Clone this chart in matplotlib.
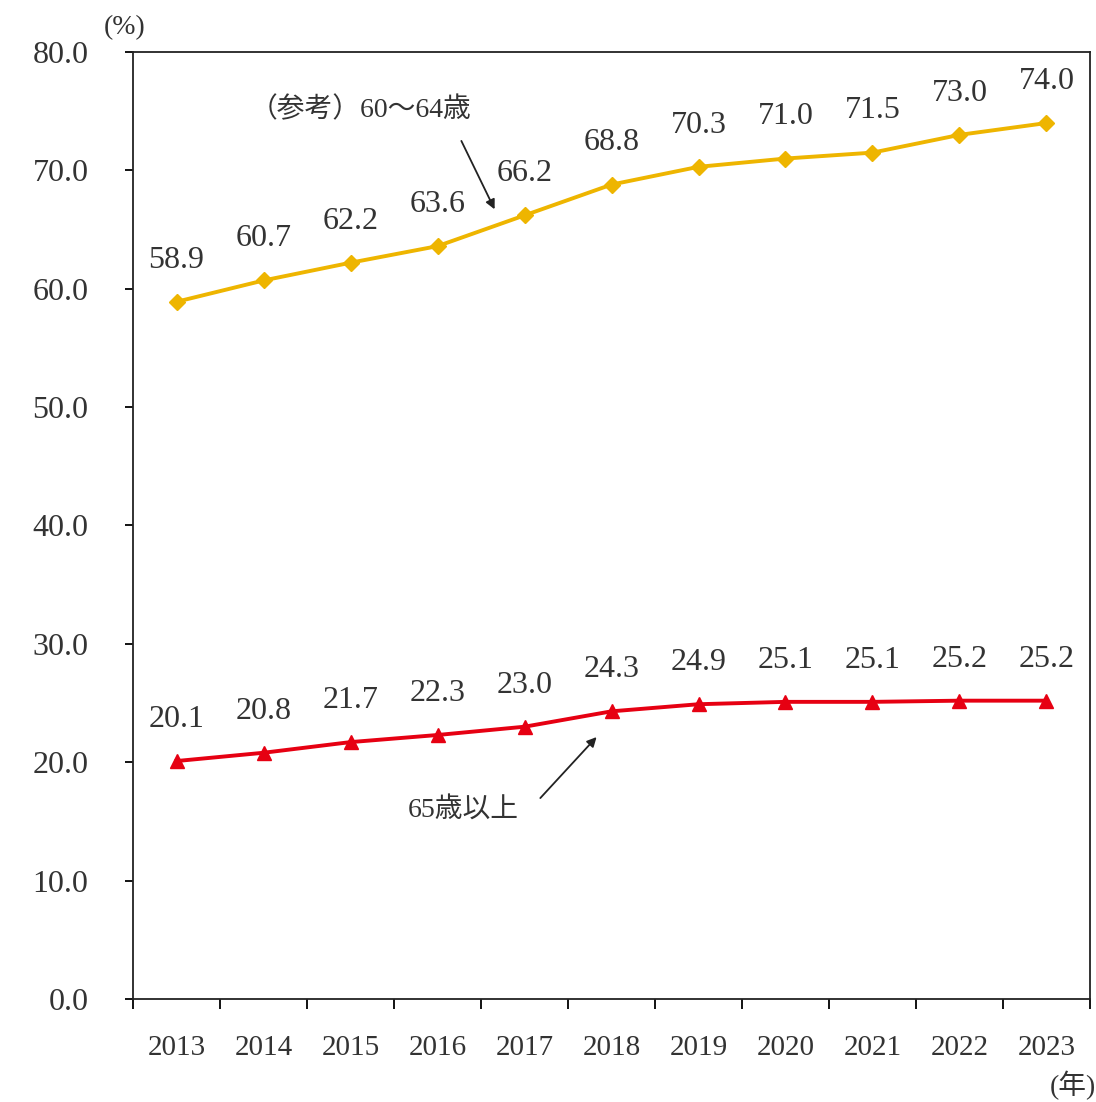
"""
employment rate of older people, 2013-2023
"""

import numpy as np
from matplotlib import pyplot as plt

plt.rcParams['font.family'] = ['Liberation Serif', 'Noto Sans CJK JP']

# data
years = ['2013', '2014', '2015', '2016', '2017', '2018', '2019', '2020', '2021', '2022', '2023']
rate_60_64 = [58.9, 60.7, 62.2, 63.6, 66.2, 68.8, 70.3, 71.0, 71.5, 73.0, 74.0]
rate_65_over = [20.1, 20.8, 21.7, 22.3, 23.0, 24.3, 24.9, 25.1, 25.1, 25.2, 25.2]
y_ticks = [0, 10, 20, 30, 40, 50, 60, 70, 80]

label_60_64 = '（参考）60～64歳'
label_65_over = '65歳以上'

YELLOW = '#EEB500'
RED = '#E60012'
TXT = '#333333'

fig = plt.figure(figsize=(10.96, 11.02), dpi=100)
ax = fig.add_axes([0.1214, 0.0935, 0.8731, 0.8593])

x = np.arange(len(years))
ax.plot(x, rate_60_64, c=YELLOW, lw=2.8, marker='D', ms=8, mec=YELLOW, mfc=YELLOW, zorder=3)
ax.plot(x, rate_65_over, c=RED, lw=2.8, marker='^', ms=10, mec=RED, mfc=RED, zorder=3)

# value labels above points
for xi, v in zip(x, rate_60_64):
    ax.annotate('%.1f' % v, (xi, v), xytext=(0, 30), textcoords='offset points',
                ha='center', va='center', fontsize=23, color=TXT)
for xi, v in zip(x, rate_65_over):
    ax.annotate('%.1f' % v, (xi, v), xytext=(0, 30), textcoords='offset points',
                ha='center', va='center', fontsize=23, color=TXT)

# series call-outs
ax.text(2.12, 75.1, label_60_64, ha='center', va='center', fontsize=20, color=TXT)
ax.annotate('', xy=(3.67, 66.5), xytext=(3.26, 72.7),
            arrowprops=dict(arrowstyle='-|>', color='#222222', lw=1.3, mutation_scale=14))
ax.text(3.30, 16.0, label_65_over, ha='center', va='center', fontsize=20, color=TXT)
ax.annotate('', xy=(4.85, 22.3), xytext=(4.16, 16.8),
            arrowprops=dict(arrowstyle='-|>', color='#222222', lw=1.3, mutation_scale=14))

ax.set_xlim([-0.5, len(years) - 0.5])
ax.set_ylim([0, 80])
ax.set_yticks(y_ticks)
ax.set_yticklabels(['%.1f' % t for t in y_ticks], fontsize=23, color=TXT)
ax.set_xticks(x)
ax.set_xticklabels(years, fontsize=21, color=TXT)
ax.set_xticks(np.arange(-0.5, len(years)), minor=True)
ax.tick_params(axis='x', which='major', length=0, pad=26)
ax.tick_params(axis='x', which='minor', length=7, width=1.3, direction='out')
ax.tick_params(axis='y', length=6, width=1.3, direction='out', pad=26)
for s in ax.spines.values():
    s.set_linewidth(1.3)
    s.set_color('#222222')

fig.text(125 / 1096, 1 - 28 / 1102, '(%)', ha='center', va='center', fontsize=20, color=TXT)
fig.text(1073 / 1096, 1 - 1085 / 1102, '(年)', ha='center', va='center', fontsize=20, color=TXT)

fig.savefig('out.png', dpi=100)
